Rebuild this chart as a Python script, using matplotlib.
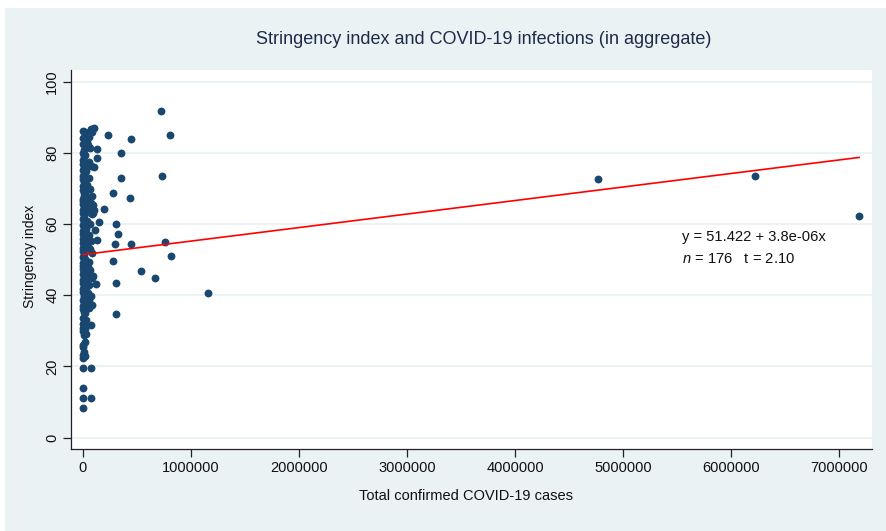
import numpy as np
import matplotlib
matplotlib.use("Agg")
import matplotlib.pyplot as plt
from matplotlib.patches import Rectangle

plt.rcParams['font.family'] = ['Liberation Sans', 'DejaVu Sans']
plt.rcParams['mathtext.fontset'] = 'custom'
plt.rcParams['mathtext.rm'] = 'Liberation Sans'
plt.rcParams['mathtext.it'] = 'Liberation Sans:italic'

# countries with many cases, spread out to the right
cases_far = [722000, 444000, 806000, 229000, 355000, 349000, 731000, 275000, 438000,
             197000, 151000, 309000, 327000, 130000, 300000, 441000, 759000, 818000,
             278000, 540000, 667000, 306000, 1160000, 306000, 4770000, 6220000, 7185000]
stringency_far = [91.7, 83.8, 85.1, 84.9, 79.9, 72.9, 73.4, 68.8, 67.4,
                  64.2, 60.6, 60.1, 57.2, 55.5, 54.5, 54.5, 55.0, 50.9,
                  49.5, 46.7, 44.9, 43.5, 40.7, 34.7, 72.6, 73.4, 62.4]

# countries with a moderate number of cases
cases_mid = [102000, 82000, 75000, 60000, 43000, 127000, 132000, 105000, 60000, 85000,
             90000, 100000, 35000, 90000, 70000, 111000, 65000, 49000, 95000, 80000,
             118000, 56000, 86000, 74000, 77000, 71000, 55000, 45000, 40000]
stringency_mid = [87.1, 86.0, 86.8, 84.4, 82.1, 81.2, 78.7, 76.0, 77.5, 68.0,
                  65.5, 64.0, 66.2, 63.0, 63.2, 58.3, 53.1, 48.0, 45.3, 45.5,
                  43.3, 38.8, 37.2, 31.6, 19.6, 11.0, 70.0, 56.5, 42.5]

# countries with few cases, bunched at zero
cases_low = [1200, 3400, 800, 5600, 2100, 7400, 400, 4300, 9000, 1500,
             6200, 2800, 300, 8100, 3900, 1100, 5000, 7000, 2500, 600,
             4700, 8600, 1900, 3100, 6800, 200, 5300, 2300, 7700, 900,
             4100, 6500, 1600, 3600, 8300, 500, 2700, 5900, 1000, 7200,
             3300, 4500, 700, 6000, 2000, 8800, 1300, 3800, 5500, 100,
             2600, 7900, 4900, 1800, 6600, 300, 3500, 5200, 1400, 7600,
             2400, 4400, 900, 6300, 3000, 1700, 5700, 2200, 800, 600,
             1500, 400, 700]
stringency_low = [86.1, 84.3, 82.4, 80.9, 80.0, 79.2, 78.0, 76.9, 76.1, 75.3,
                  74.2, 73.4, 72.6, 71.8, 70.7, 69.5, 68.7, 67.9, 67.1, 66.4,
                  65.6, 64.8, 63.9, 63.1, 62.2, 61.4, 60.6, 59.7, 58.9, 58.1,
                  57.3, 56.5, 55.7, 54.8, 54.0, 53.2, 52.4, 51.5, 50.7, 49.9,
                  49.1, 48.3, 47.5, 46.7, 45.9, 45.1, 44.3, 43.5, 42.6, 41.8,
                  41.0, 40.2, 39.4, 38.6, 37.8, 36.9, 36.1, 35.3, 33.5, 32.6,
                  31.8, 30.8, 29.9, 28.8, 26.0, 25.4, 24.1, 23.3, 22.3, 19.5,
                  13.9, 11.0, 8.4]

cases_low2 = [22000, 48000, 35000, 64000, 18000, 41000, 72000, 27000, 55000, 33000,
              68000, 20000, 46000, 78000, 30000, 58000, 16000, 84000, 38000, 62000,
              24000, 52000, 70000, 29000, 44000, 88000, 19000, 57000, 36000, 66000,
              25000, 50000, 80000, 32000, 60000, 21000, 42000, 74000, 28000, 54000,
              17000, 31000, 23000, 15000, 26000, 19000, 14000]
stringency_low2 = [86.0, 85.0, 83.0, 81.5, 79.5, 77.0, 76.4, 75.0, 73.0, 71.0,
                   69.9, 68.4, 67.3, 65.9, 65.0, 64.1, 63.4, 62.8, 61.0, 59.9,
                   58.5, 57.0, 55.2, 54.4, 53.6, 52.0, 50.3, 49.4, 48.6, 47.2,
                   46.1, 45.5, 44.8, 43.9, 43.0, 42.0, 40.7, 39.9, 38.0, 36.5,
                   35.0, 33.0, 32.2, 30.5, 29.2, 27.0, 22.8]

cases = np.array(cases_far + cases_mid + cases_low + cases_low2, dtype=float)
stringency = np.array(stringency_far + stringency_mid + stringency_low + stringency_low2)

intercept = 51.422
slope = 3.8e-06

bg = '#EAF2F3'
navy = '#1A476F'

fig = plt.figure(figsize=(8.86, 5.31), dpi=100, facecolor='white')
fig.patches.append(Rectangle((5/886, 0), 1, 1 - 8/531, transform=fig.transFigure,
                             facecolor=bg, edgecolor='none', zorder=-1))
ax = fig.add_axes([71/886, 82/531, 801/886, 379/531])
ax.set_facecolor('white')

ax.scatter(cases, stringency, s=32, color=navy, linewidths=0, zorder=3)

xfit = np.array([cases.min(), cases.max()])
ax.plot(xfit, intercept + slope * xfit, color='red', lw=1.2, zorder=4)

ax.set_xlim(-111000, 7305000)
ax.set_ylim(-3.2, 103.3)
ax.set_xticks(np.arange(0, 7000001, 1000000))
ax.set_xticklabels([str(v) for v in range(0, 7000001, 1000000)])
ax.set_yticks(np.arange(0, 101, 20))
ax.yaxis.grid(True, color=bg, lw=1.3, zorder=0)
ax.set_axisbelow(True)

for s in ['top', 'right']:
    ax.spines[s].set_visible(False)
for s in ['left', 'bottom']:
    ax.spines[s].set_color('#222222')
    ax.spines[s].set_linewidth(0.9)

ax.tick_params(axis='both', direction='out', length=5.5, width=0.9, color='#222222',
               labelsize=10.5, labelcolor='#111111')
ax.tick_params(axis='y', pad=3)
plt.setp(ax.get_yticklabels(), rotation=90, va='center')

ax.text(5546000, 56.4, 'y = 51.422 + 3.8e-06x', fontsize=10.6, va='center', color='#111111')
ax.text(5546000, 50.1, '$n$ = 176   t = 2.10', fontsize=10.6, va='center', color='#111111')

fig.text(483.5/886, 1 - 39/531, 'Stringency index and COVID-19 infections (in aggregate)',
         ha='center', va='center', fontsize=13, color='#1E2B4A')
fig.text(466/886, 1 - 496/531, 'Total confirmed COVID-19 cases',
         ha='center', va='center', fontsize=10.5, color='#111111')
fig.text(30/886, 1 - 256/531, 'Stringency index', rotation=90,
         ha='center', va='center', fontsize=10, color='#111111')

fig.savefig('out.png', dpi=100, facecolor='white')
